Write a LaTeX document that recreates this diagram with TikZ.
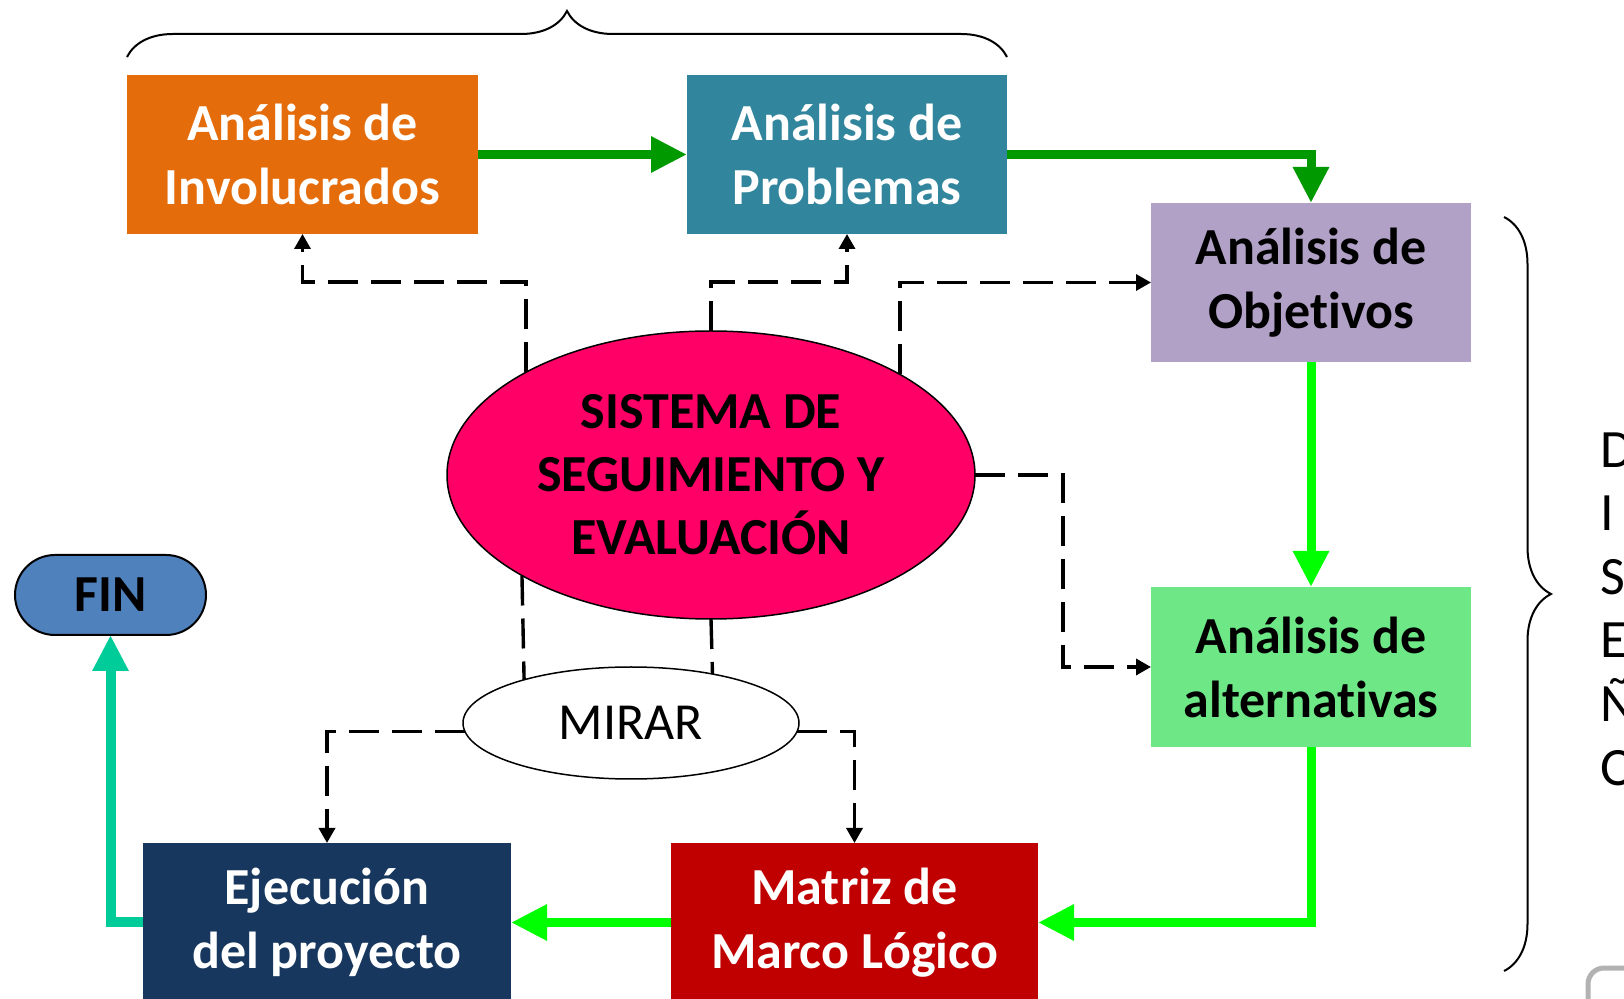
\documentclass[tikz,border=0pt]{standalone}
\usepackage{fontspec}
\setmainfont{Carlito}[Ligatures=NoCommon]
\usetikzlibrary{arrows.meta}
\usetikzlibrary{shapes.geometric}
\usetikzlibrary{decorations.pathreplacing}

\definecolor{naranja}{HTML}{E46C0A}
\definecolor{azulverde}{HTML}{31859C}
\definecolor{lila}{HTML}{B2A1C7}
\definecolor{verdeclaro}{HTML}{6EE887}
\definecolor{rojo}{HTML}{C00000}
\definecolor{marino}{HTML}{17375E}
\definecolor{azulfin}{HTML}{4F81BD}
\definecolor{fucsia}{HTML}{FF0066}
\definecolor{verdeosc}{HTML}{009900}
\definecolor{verdevivo}{HTML}{00FF00}
\definecolor{verdeagua}{HTML}{00CC99}

\begin{document}
\begin{tikzpicture}[x=0.5pt,y=-0.5pt,
caja/.style={rectangle,inner sep=0pt,outer sep=0pt,align=center,font=\bfseries\fontsize{26}{32}\selectfont},
flecha/.style={line width=4.5pt,-{Triangle[length=18pt,width=17pt]}},
guion/.style={line width=1.7pt,dash pattern=on 15pt off 6.5pt,-{Triangle[length=7.5pt,width=8pt]}}]
\useasboundingbox (0,0) rectangle (1624,999);
\node[caja,fill=naranja,text=white,minimum width=175.5pt,minimum height=79.5pt] (inv) at (302.5,154.5) {Análisis de\\Involucrados};
\node[caja,fill=azulverde,text=white,minimum width=160pt,minimum height=79.5pt] (prob) at (847,154.5) {Análisis de\\Problemas};
\node[caja,fill=lila,minimum width=160pt,minimum height=79.5pt] (obj) at (1311,282.5) {Análisis de\\Objetivos};
\node[caja,fill=verdeclaro,minimum width=160pt,minimum height=80pt] (alt) at (1311,667) {Análisis de\\alternativas};
\node[caja,fill=rojo,text=white,minimum width=183.5pt,minimum height=79.5pt] (mat) at (854.5,922.5) {Matriz de\\Marco Lógico};
\node[caja,fill=marino,text=white,minimum width=184pt,minimum height=79.5pt] (eje) at (327,922.5) {Ejecución\\del proyecto};
\node[caja,draw,line width=1pt,fill=azulfin,rounded corners=20pt,minimum width=95.5pt,minimum height=40pt] (fin) at (110.5,595) {FIN};
\node[ellipse,draw,line width=0.75pt,fill=fucsia,inner sep=0pt,outer sep=0pt,minimum width=264pt,minimum height=144pt,align=center,font=\bfseries\fontsize{26}{31.5}\selectfont] (sys) at (711,475) {SISTEMA DE\\SEGUIMIENTO Y\\EVALUACIÓN};
\node[ellipse,draw,line width=0.75pt,fill=white,inner sep=0pt,outer sep=0pt,minimum width=168pt,minimum height=56pt,font=\fontsize{26}{31}\selectfont] (mir) at (631,723) {MIRAR};
\node[anchor=north west,inner sep=0pt,align=left,font=\fontsize{27}{31.8}\selectfont] (dis) at (1600,432) {D\\I\\S\\E\\Ñ\\O};

\draw[flecha,verdeosc] (inv.east) -- (prob.west);
\draw[flecha,verdeosc] (prob.east) -| (obj.north);
\draw[flecha,verdevivo] (obj.south) -- (alt.north);
\draw[flecha,verdevivo] (alt.south) |- (mat.east);
\draw[flecha,verdevivo] (mat.west) -- (eje.east);
\draw[flecha,verdeagua,line width=5pt] (eje.west) -| (fin.south);

\coordinate (nivel) at (0,282);
\draw[guion] (sys.151.5) -- (sys.151.5 |- nivel) -| (inv.south);
\draw[guion] (sys.north) -- (sys.north |- nivel) -| (prob.south);
\draw[guion] (sys.28.5) |- (obj.west);
\draw[guion] (sys.east) -- ++(88,0) |- (alt.west);
\draw[guion,-] (sys.208.5) -- (mir.158.1);
\draw[guion,-] (sys.south) -- (mir.31.5);
\draw[guion] (mir.183) -| (eje.north);
\draw[guion] (mir.-3) -| (mat.north);

\draw[line width=1pt,decorate,decoration={brace,amplitude=23pt}] (127,57) -- (1007,57);
\draw[line width=1pt,decorate,decoration={brace,amplitude=23.5pt}] (1504,217) -- (1504,971);
\draw[gray!60,line width=2.5pt,rounded corners=8pt] (1588,968) rectangle (1680,1060);
\end{tikzpicture}
\end{document}
